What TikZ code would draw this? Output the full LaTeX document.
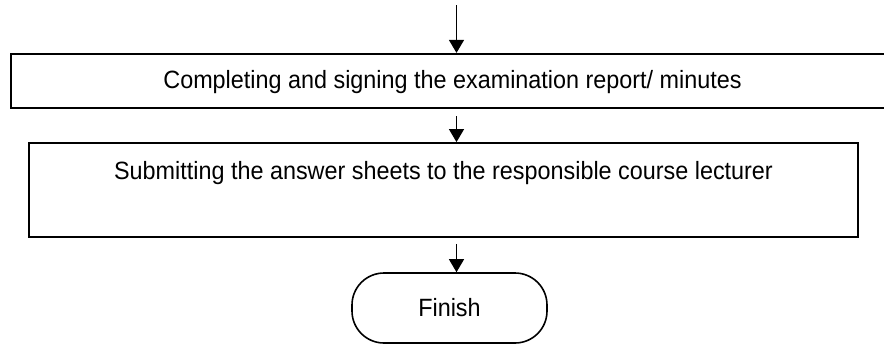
\documentclass[tikz,border=0pt]{standalone}
\usepackage{fontspec}
\setmainfont{Liberation Sans}[FakeStretch=0.935]
\usetikzlibrary{arrows.meta}
\begin{document}
\begin{tikzpicture}[x={(0.5pt,0pt)},y={(0pt,-0.5pt)},
  stepbox/.style={draw,line width=0.9pt,inner sep=0pt,font=\fontsize{12.5pt}{14pt}\selectfont},
  endbox/.style={draw,line width=0.8pt,rounded corners=16pt,minimum width=97.5pt,minimum height=35pt,inner sep=0pt,font=\fontsize{12.5pt}{14pt}\selectfont},
  arr/.style={line width=0.6pt,-{Triangle[length=6.5pt,width=7.5pt]}}]
\useasboundingbox (0,0) rectangle (884,345);
\coordinate (top) at (456.5,5);
\node[stepbox,line width=1.1pt,minimum width=450pt,text height=17pt,text depth=10pt] (report) at (461,81) {Completing and signing the examination report/ minutes\hspace*{8.5pt}};
\node[stepbox,minimum width=414.5pt,text height=18.3pt,text depth=28.7pt] (submit) at (443.5,190) {Submitting the answer sheets to the responsible course lecturer};
\node[endbox] (finish) at (449.5,308) {Finish};
\draw[arr] (top) -- (top |- report.north);
\draw[arr,shorten <=3.5pt] (top |- report.south) -- (top |- submit.north);
\draw[arr,shorten <=3pt] (top |- submit.south) -- (top |- finish.north);
\end{tikzpicture}
\end{document}
